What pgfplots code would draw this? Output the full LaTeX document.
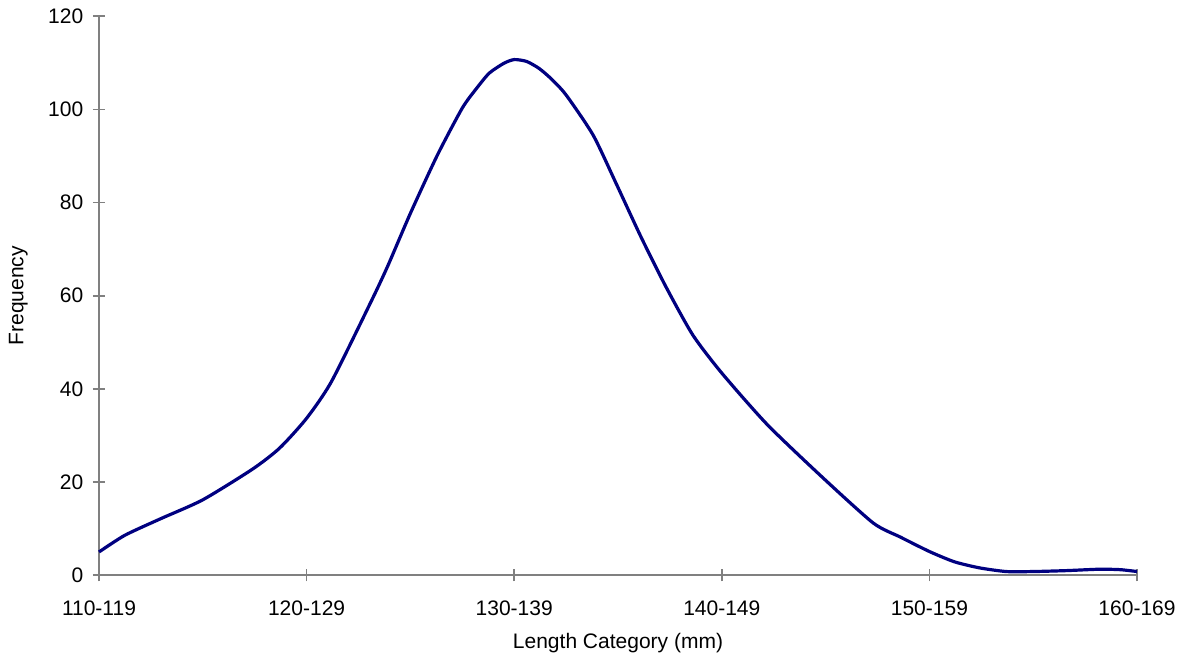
\documentclass[border=0pt]{standalone}
\usepackage{fontspec}
\setmainfont{Liberation Sans}
\usepackage{pgfplots}
\pgfplotsset{compat=1.18}
\definecolor{navyline}{RGB}{0,0,128}
\definecolor{axgray}{RGB}{128,128,128}
\pgfplotstableread{
x y
110 5.0
111.25 8.6
113 12.2
115 16.2
117.4 22.8
118.7 27.3
120.0 33.7
121.2 41.6
123.1 58.7
123.9 66.3
125.0 77.7
126.3 90.2
127.5 100.3
128.2 104.6
128.8 107.8
129.5 109.9
130.0 110.7
130.6 110.3
131.2 108.8
131.8 106.5
132.5 103.1
133.8 94.5
134.9 84.2
136.1 72.7
137.3 62.0
138.6 51.6
140.0 43.4
142.2 32.3
144.9 20.8
147.3 11.2
148.6 8.2
150.0 5.1
151.2 2.9
152.4 1.6
153.7 0.8
155.0 0.8
156.6 1.0
158.2 1.3
159.2 1.2
160 0.8
}\freq
\begin{document}
\begin{tikzpicture}
\begin{axis}[
  name=ax,
  scale only axis,
  width=778.5pt, height=419.25pt,
  xmin=110, xmax=160, ymin=0, ymax=120,
  axis x line=bottom, axis y line=left,
  axis line style={-, draw=axgray, line width=1.5pt},
  xtick={110,120,...,160},
  xticklabels={110-119,120-129,130-139,140-149,150-159,160-169},
  ytick={0,20,...,120},
  tick align=center,
  major tick length=9pt,
  tick style={draw=axgray, line width=1.2pt},
  font=\fontsize{15.75}{18}\selectfont,
  tick label style={font=\fontsize{15.75}{18}\selectfont},
  xticklabel style={yshift=-11pt},
  yticklabel style={xshift=-3.75pt},
  /pgf/number format/assume math mode=true,
  xlabel={Length Category (mm)},
  ylabel={Frequency},
  xlabel style={at={(axis description cs:0.5,-0.1207)}, anchor=center},
  ylabel style={at={(axis description cs:-0.0777,0.5)}, anchor=center, rotate=0},
  clip=false,
]
\addplot[navyline, line width=2.4pt, smooth, tension=0.4] table[x=x,y=y] {\freq};
\end{axis}
\path (ax.south west) ++(-74.25pt,-69.5pt) coordinate (bbl);
\path (ax.north east) ++(36.75pt,12.2pt) coordinate (btr);
\path (bbl) rectangle (btr);
\end{tikzpicture}
\end{document}
